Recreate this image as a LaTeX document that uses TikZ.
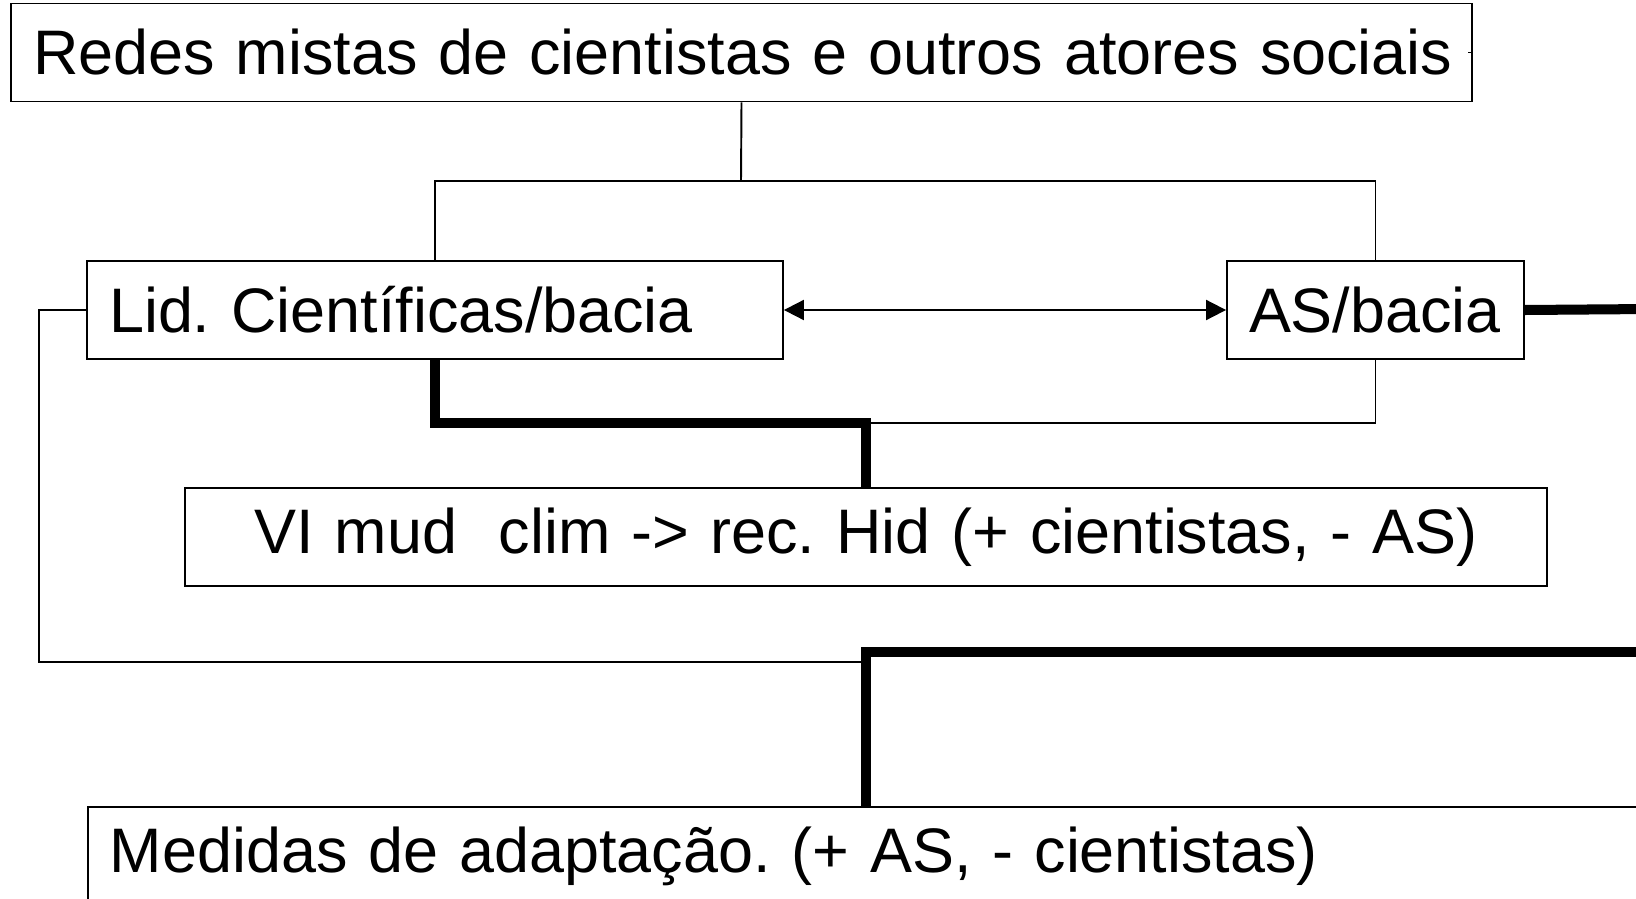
\documentclass[tikz,border=0pt]{standalone}
\usepackage{fontspec}
\setmainfont{Liberation Sans}
\usetikzlibrary{arrows.meta}
\frenchspacing
\begin{document}
\begin{tikzpicture}[x=0.02cm,y=-0.02cm]
        \tikzstyle{box}=[draw, line width=1.1pt, inner xsep=0.44cm, inner ysep=0pt, minimum height=1.96cm, font=\fontsize{35.8}{40}\selectfont]
        \tikzstyle{thinLink}=[line width=1.1pt]
        \tikzstyle{thickLink}=[line width=5.7pt]
    \useasboundingbox (0,0) rectangle (1636,899);

    \node[box, text width=28.34cm, align=left] (redes) at (741.5,52.5) {\mbox{Redes mistas de cientistas e outros atores sociais}};
    \node[box, text width=13.04cm, align=left] (lid) at (435,310) {Lid. Científicas/bacia};
    \node[box, text width=5.06cm, align=left] (as) at (1375.5,310) {AS/bacia};
    \node[box, text width=26.36cm, align=center] (vi) at (866,537) {\mbox{VI mud~ clim -> rec. Hid (+ cientistas, - AS)}};
    \node[box, text width=31.38cm, align=left, anchor=north west] (med) at (87,806) {Medidas de adaptação. (+ AS, - cientistas)};

    \coordinate (fork) at (741,181);
    \coordinate (joinVI) at (866,423);
    \coordinate (loopEnd) at (866,662);
    \coordinate (outAS) at (1650,309);
    \coordinate (outMed) at (1650,652);

    \draw[thinLink] (redes.east) -- ++(-5,0);
    \draw[thinLink] (redes.south) -- (fork);
    \draw[thinLink] (lid.north) |- (fork) -| (as.north);
    \draw[thinLink, {Triangle[length=11.4pt,width=11.4pt]}-{Triangle[length=11.4pt,width=11.4pt]}] (lid.east) -- (as.west);
    \draw[thinLink] (as.south) |- (joinVI);
    \draw[thickLink] (lid.south) |- (joinVI) -- (vi.north);
    \draw[thickLink] (as.east) -- (outAS);
    \draw[thinLink] (lid.west) -| (39,662) -- (loopEnd);
    \draw[thickLink] ([xshift=15.58cm]med.north west) |- (outMed);
\end{tikzpicture}
\end{document}
